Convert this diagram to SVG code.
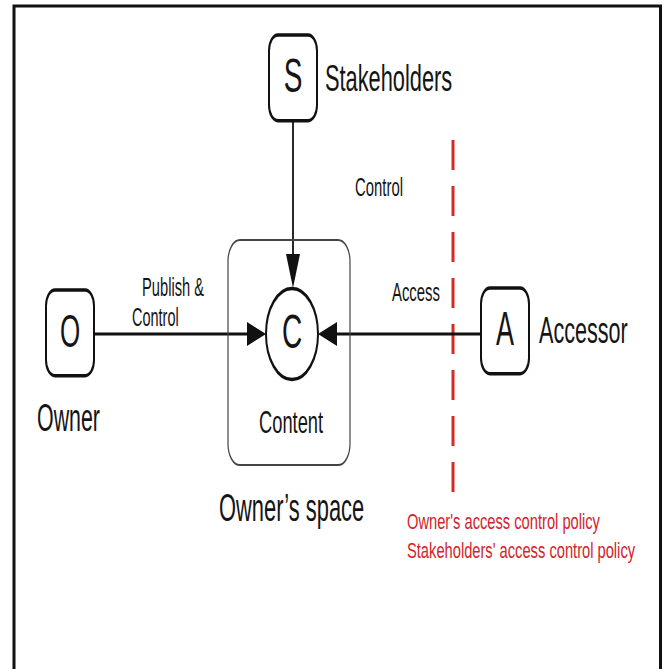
<svg xmlns="http://www.w3.org/2000/svg" xmlns:xlink="http://www.w3.org/1999/xlink" width="667" height="669" viewBox="0 0 667 669">
  <style>
    .t { font-family: "Liberation Sans", Arial, sans-serif; fill: #151515; }
    .red { font-family: "Liberation Sans", Arial, sans-serif; fill: #d3232b; }
    .box { fill: #fff; stroke: #111; stroke-width: 2; }
    .wire { stroke: #111; fill: none; }
    .head { fill: #111; }
  </style>
  <defs>
    <!-- actor box, drawn unstretched and scaled vertically where used -->
    <rect id="actorBox" x="0" y="0" width="48" height="49" rx="9" ry="9"/>
  </defs>

  <rect width="667" height="669" fill="#fff"/>
  <!-- outer frame (open at the bottom edge) -->
  <rect x="14" y="6" width="646.5" height="700" fill="none" stroke="#111" stroke-width="3"/>

  <!-- policy boundary -->
  <line x1="453" y1="140" x2="453" y2="492" stroke="#d62a2a" stroke-width="3" stroke-dasharray="30 16"/>

  <g id="connectors">
    <!-- Stakeholders -> Content -->
    <line class="wire" x1="293" y1="120" x2="293" y2="256" stroke-width="1.8"/>
    <polygon class="head" points="286,254 300,254 293,288"/>
    <!-- Owner -> Content -->
    <line class="wire" x1="93" y1="334" x2="250" y2="334" stroke-width="3"/>
    <polygon class="head" points="247,322 247,346 266,334"/>
    <!-- Accessor -> Content -->
    <line class="wire" x1="481" y1="334" x2="334" y2="334" stroke-width="3"/>
    <polygon class="head" points="337,322 337,346 318,334"/>
    <text class="t" font-size="14.9" transform="translate(355,196) scale(1,1.75)">Control</text>
    <text class="t" font-size="14.7" transform="translate(142,296) scale(1,1.75)">Publish &amp;</text>
    <text class="t" font-size="14.5" transform="translate(132,326) scale(1,1.75)">Control</text>
    <text class="t" font-size="14.9" transform="translate(392,301) scale(1,1.75)">Access</text>
  </g>

  <g id="owners-space">
    <rect x="0" y="0" width="122" height="128.6" rx="12" ry="12" fill="none" stroke="#444" stroke-width="1.2" transform="translate(228,240) scale(1,1.75)"/>
    <text class="t" font-size="21.9" transform="translate(219,521) scale(1,1.75)">Owner’s space</text>
  </g>

  <g id="stakeholders">
    <use xlink:href="#actorBox" class="box" transform="translate(269,35) scale(1,1.75)"/>
    <text class="t" font-size="28" text-anchor="middle" transform="translate(293,92) scale(1,1.72)">S</text>
    <text class="t" font-size="21.8" transform="translate(325,91) scale(1,1.73)">Stakeholders</text>
  </g>

  <g id="owner">
    <use xlink:href="#actorBox" class="box" transform="translate(46,290) scale(1,1.75)"/>
    <text class="t" font-size="26" text-anchor="middle" transform="translate(70,347) scale(1,1.75)">O</text>
    <text class="t" font-size="21.4" transform="translate(37,431) scale(1,1.8)">Owner</text>
  </g>

  <g id="content">
    <circle cx="0" cy="0" r="26" fill="#fff" stroke="#111" stroke-width="2" transform="translate(292,334) scale(1,1.75)"/>
    <text class="t" font-size="28" text-anchor="middle" transform="translate(292,348) scale(1,1.7)">C</text>
    <text class="t" font-size="18.3" transform="translate(259,433) scale(1,1.75)">Content</text>
  </g>

  <g id="accessor">
    <use xlink:href="#actorBox" class="box" transform="translate(481,288) scale(1,1.75)"/>
    <text class="t" font-size="27" text-anchor="middle" transform="translate(505,345) scale(1,1.75)">A</text>
    <text class="t" font-size="21.6" transform="translate(539,343) scale(1,1.75)">Accessor</text>
  </g>

  <g id="policies">
    <text class="red" font-size="14.7" transform="translate(407,529) scale(1,1.5)">Owner's access control policy</text>
    <text class="red" font-size="14.7" transform="translate(407,558) scale(1,1.5)">Stakeholders' access control policy</text>
  </g>
</svg>
